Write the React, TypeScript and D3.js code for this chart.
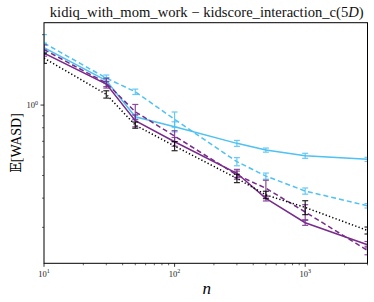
import * as d3 from 'd3';
import React, { useEffect, useRef } from 'react';

// sample sizes on the x axis
const nValues = [10, 30, 50, 100, 300, 500, 1000, 3000];

// E[WASD] per method
const cyanSolid = [1.761, 1.273, 0.891, 0.808, 0.686, 0.642, 0.607, 0.586];
const cyanSolidErr = [0.08, 0.038, 0.018, 0.04, 0.02, 0.013, 0.015, 0.012];
const cyanDashed = [1.841, 1.304, 1.14, 0.869, 0.573, 0.497, 0.429, 0.371];
const cyanDashedErr = [0.16, 0.04, 0.03, 0.065, 0.023, 0.015, 0.013, 0.008];
const purpleSolid = [1.668, 1.229, 0.857, 0.697, 0.511, 0.399, 0.314, 0.253];
const purpleSolidErr = [0.05, 0.03, 0.05, 0.03, 0.02, 0.01, 0.008, 0.008];
const purpleDashed = [1.727, 1.242, 0.936, 0.737, 0.502, 0.441, 0.349, 0.239];
const purpleDashedErr = [0.08, 0.06, 0.07, 0.04, 0.02, 0.036, 0.026, 0.01];
const blackDotted = [1.588, 1.111, 0.821, 0.668, 0.486, 0.413, 0.365, 0.291];
const blackDottedErr = [0.08, 0.04, 0.025, 0.03, 0.02, 0.015, 0.025, 0.01];

const xMajorTicks = [10, 100, 1000];
const xTickExponents = ['1', '2', '3'];
const yMajorTicks = [1];
const yTickExponents = ['0'];

const CYAN = '#4fc1f2';
const PURPLE = '#7a2c8c';
const SERIF = "'Liberation Serif', 'DejaVu Serif', serif";

const App: React.FC = () => {
  const ref = useRef<SVGSVGElement>(null);

  useEffect(() => {
    if (!ref.current) return;
    const root = d3.select(ref.current);
    root.selectAll('*').remove();

    const W = 374, H = 302;
    const margin = { top: 22.7, right: 6.5, bottom: 38.7, left: 44 };
    const width = W - margin.left - margin.right;
    const height = H - margin.top - margin.bottom;

    root.attr('width', W).attr('height', H).style('font-family', SERIF);

    const x = d3.scaleLog().domain([10, 3000]).range([0, width]);
    const y = d3.scaleLog().domain([0.2106, 2.25]).range([height, 0]);

    const g = root.append('g').attr('transform', `translate(${margin.left},${margin.top})`);

    root.append('defs').append('clipPath').attr('id', 'plotclip')
      .append('rect').attr('width', width).attr('height', height);

    const series = [
      { vals: cyanSolid, err: cyanSolidErr, color: CYAN, dash: null },
      { vals: cyanDashed, err: cyanDashedErr, color: CYAN, dash: '5,3' },
      { vals: purpleSolid, err: purpleSolidErr, color: PURPLE, dash: null },
      { vals: purpleDashed, err: purpleDashedErr, color: PURPLE, dash: '5,3' },
      { vals: blackDotted, err: blackDottedErr, color: '#000', dash: '1.3,2.2' },
    ];

    const plot = g.append('g').attr('clip-path', 'url(#plotclip)');
    const line = d3.line<number>()
      .x((_, i) => x(nValues[i]))
      .y(d => y(d));

    series.forEach(s => {
      const eb = plot.append('g')
        .attr('stroke', s.color)
        .attr('stroke-width', 1.2)
        .attr('opacity', 0.85);
      s.vals.forEach((v, i) => {
        const cx = x(nValues[i]);
        const top = y(v + s.err[i]);
        const bot = y(v - s.err[i]);
        eb.append('line').attr('x1', cx).attr('x2', cx).attr('y1', top).attr('y2', bot);
        eb.append('line').attr('x1', cx - 3).attr('x2', cx + 3).attr('y1', top).attr('y2', top);
        eb.append('line').attr('x1', cx - 3).attr('x2', cx + 3).attr('y1', bot).attr('y2', bot);
      });
      plot.append('path')
        .datum(s.vals)
        .attr('d', line)
        .attr('fill', 'none')
        .attr('stroke', s.color)
        .attr('stroke-width', 1.5)
        .attr('stroke-dasharray', s.dash);
    });

    // frame
    g.append('rect')
      .attr('width', width).attr('height', height)
      .attr('fill', 'none').attr('stroke', '#000').attr('stroke-width', 1);

    // x ticks
    const xMinor = x.ticks().filter(t => !xMajorTicks.includes(t));
    g.selectAll('.xminor').data(xMinor).enter().append('line')
      .attr('x1', d => x(d)).attr('x2', d => x(d))
      .attr('y1', height).attr('y2', height + 2)
      .attr('stroke', '#000').attr('stroke-width', 0.6);
    g.selectAll('.xmajor').data(xMajorTicks).enter().append('line')
      .attr('x1', d => x(d)).attr('x2', d => x(d))
      .attr('y1', height).attr('y2', height + 3.5)
      .attr('stroke', '#000').attr('stroke-width', 0.8);
    const xl = g.selectAll('.xlab').data(xMajorTicks).enter().append('text')
      .attr('x', d => x(d)).attr('y', height + 13.5)
      .attr('text-anchor', 'middle')
      .attr('font-size', 8.5)
      .attr('fill', '#222');
    xl.append('tspan').text('10');
    xl.append('tspan').attr('dy', -3.5).attr('font-size', 6).text((_, i) => xTickExponents[i]);

    // y ticks
    const yMinor = y.ticks().filter(t => !yMajorTicks.includes(t));
    g.selectAll('.yminor').data(yMinor).enter().append('line')
      .attr('x1', -2).attr('x2', 0)
      .attr('y1', d => y(d)).attr('y2', d => y(d))
      .attr('stroke', '#000').attr('stroke-width', 0.6);
    g.selectAll('.ymajor').data(yMajorTicks).enter().append('line')
      .attr('x1', -3.5).attr('x2', 0)
      .attr('y1', d => y(d)).attr('y2', d => y(d))
      .attr('stroke', '#000').attr('stroke-width', 0.8);
    const yl = g.selectAll('.ylab').data(yMajorTicks).enter().append('text')
      .attr('x', -6).attr('y', d => y(d) + 3)
      .attr('text-anchor', 'end')
      .attr('font-size', 8.5)
      .attr('fill', '#222');
    yl.append('tspan').text('10');
    yl.append('tspan').attr('dy', -3.5).attr('font-size', 6).text((_, i) => yTickExponents[i]);

    // title, font size fitted to the reference width
    const title = root.append('text')
      .attr('x', margin.left + width / 2 + 1).attr('y', 17)
      .attr('text-anchor', 'middle')
      .attr('font-size', 14)
      .attr('fill', '#111');
    title.append('tspan').text('kidiq_with_mom_work − kidscore_interaction_c(5');
    title.append('tspan').attr('font-style', 'italic').text('D');
    title.append('tspan').text(')');
    const tNode = title.node() as SVGTextElement;
    const tw = tNode.getComputedTextLength();
    if (tw > 0) title.attr('font-size', Math.min(15, 14 * 314 / tw));

    // axis labels
    root.append('text')
      .attr('x', margin.left + width / 2 + 1).attr('y', 294)
      .attr('text-anchor', 'middle')
      .attr('font-style', 'italic')
      .attr('font-size', 17)
      .text('n');
    root.append('text')
      .attr('transform', `translate(21,${margin.top + height / 2}) rotate(-90)`)
      .attr('text-anchor', 'middle')
      .attr('font-size', 14)
      .text('𝔼[WASD]');
  }, []);

  return <svg ref={ref} style={{ position: 'absolute', left: 0, top: 0 }}></svg>;
};

export default App;
